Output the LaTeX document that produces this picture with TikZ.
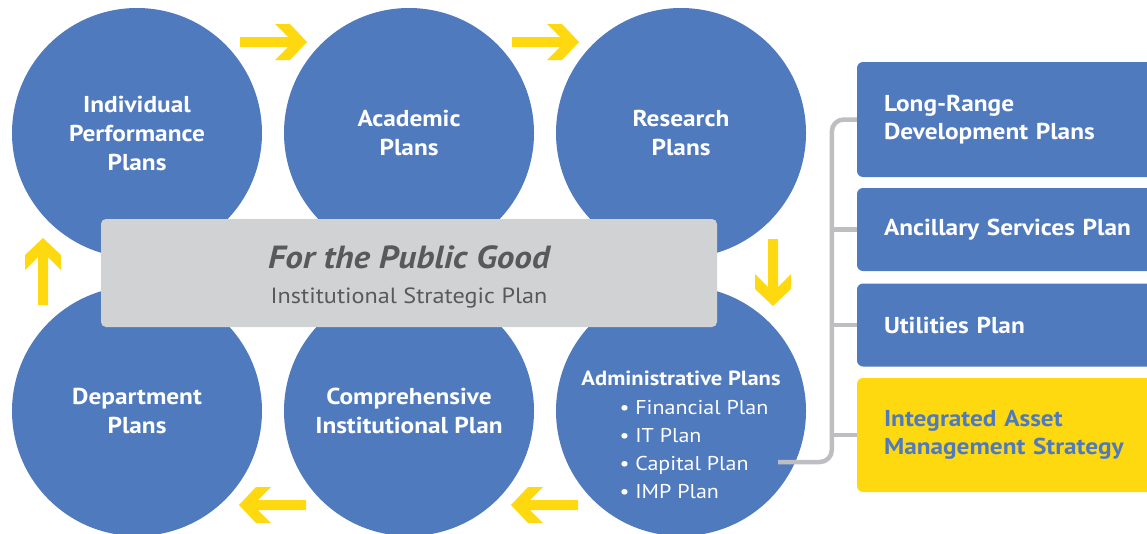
\documentclass[tikz,border=0pt]{standalone}
\usepackage{fontspec}
\setmainfont{PT Sans}[FakeStretch=1.1]
\usetikzlibrary{calc}
\definecolor{planblue}{RGB}{80,122,190}
\definecolor{flowyellow}{RGB}{255,217,15}
\definecolor{boxgray}{RGB}{209,210,212}
\definecolor{textgray}{RGB}{88,89,91}
\definecolor{linegray}{RGB}{190,190,194}
\tikzset{
  circ/.style={circle, fill=planblue, minimum size=250pt, inner sep=0pt,
    text=white, align=center, font=\fontsize{23}{29}\selectfont\bfseries},
  side/.style={rectangle, rounded corners=6pt, fill=planblue, text=white,
    text width=262pt, minimum width=316pt, inner xsep=27pt, align=left,
    font=\fontsize{23}{28}\selectfont\bfseries},
  brace/.style={draw=linegray, line width=4.5pt, rounded corners=12pt},
  flow/.pic={
    \fill[flowyellow] (-33,5) -- (15,5) -- (2,18) -- (17,18) -- (34,0)
      -- (17,-18) -- (2,-18) -- (15,-5) -- (-33,-5) -- cycle;
  }
}
\begin{document}
\begin{tikzpicture}[x=1pt,y=-1pt]
    \useasboundingbox (0,0) rectangle (1147,533);
    \def\x{272}
    \def\y{278}
    % plan circles
    \node[circ] (C0_0) at (137+0*\x, 133+0*\y) {Individual\\Performance\\Plans};
    \node[circ] (C0_1) at (137+1*\x, 133+0*\y) {Academic\\Plans};
    \node[circ] (C0_2) at (137+2*\x, 133+0*\y) {Research\\Plans};
    \node[circ] (C1_0) at (137+0*\x, 133+1*\y) {Department\\Plans};
    \node[circ] (C1_1) at (137+1*\x, 133+1*\y) {Comprehensive\\Institutional Plan};
    \node[circ] (C1_2) at (137+2*\x, 133+1*\y) {};
    \node[text=white, font=\fontsize{20.5}{24}\selectfont\bfseries] (T1_2)
      at (681,378) {Administrative Plans};
    \node[text=white, align=left, anchor=west, font=\fontsize{20}{28}\selectfont] (L1_2)
      at (616,450) {\textbullet\ Financial Plan\\\textbullet\ IT Plan\\\textbullet\ Capital Plan\\\textbullet\ IMP Plan};
    \coordinate (K) at (778,462);
    % strategic plan
    \node[rectangle, rounded corners=5pt, fill=boxgray, text=textgray, align=center,
      minimum width=616pt, minimum height=108pt, font=\fontsize{22}{35}\selectfont] (P) at (409,273)
      {};
    \node[text=textgray, align=center, font=\fontsize{22}{35}\selectfont] (PT) at (409,277)
      {{\fontsize{32}{35}\selectfont\bfseries\itshape For the Public Good}\\
       Institutional Strategic Plan};
    % flow arrows
    \pic at ($(C0_0)!0.5!(C0_1)+(0,-91)$) {flow};
    \pic at ($(C0_1)!0.5!(C0_2)+(0,-91)$) {flow};
    \pic[rotate=-90] at ($(C0_2)!0.5!(C1_2)+(92,0)$) {flow};
    \pic[rotate=180] at ($(C1_2)!0.5!(C1_1)+(0,94)$) {flow};
    \pic[rotate=180] at ($(C1_1)!0.5!(C1_0)+(0,94)$) {flow};
    \pic[rotate=90] at ($(C1_0)!0.5!(C0_0)+(-94,0)$) {flow};
    % capital plans
    \node[side, minimum height=115pt] (B0_0) at (1015,119.5) {Long-Range\\Development Plans};
    \node[side, minimum height=83pt] (B1_0) at (1015,229.5) {Ancillary Services Plan};
    \node[side, minimum height=83pt] (B2_0) at (1015,325) {Utilities Plan};
    \node[side, minimum height=114pt, fill=flowyellow, text=planblue] (B3_0) at (1015,435)
      {Integrated Asset\\Management Strategy};
    \draw[brace] (K) -| ($(B0_0.west)+(-25,0)$) -- (B0_0.west);
    \draw[brace] (B1_0.west) -- ++(-27,0);
    \draw[brace] (B2_0.west) -- ++(-27,0);
    \draw[brace] (B3_0.west) -- ++(-27,0);
\end{tikzpicture}
\end{document}
